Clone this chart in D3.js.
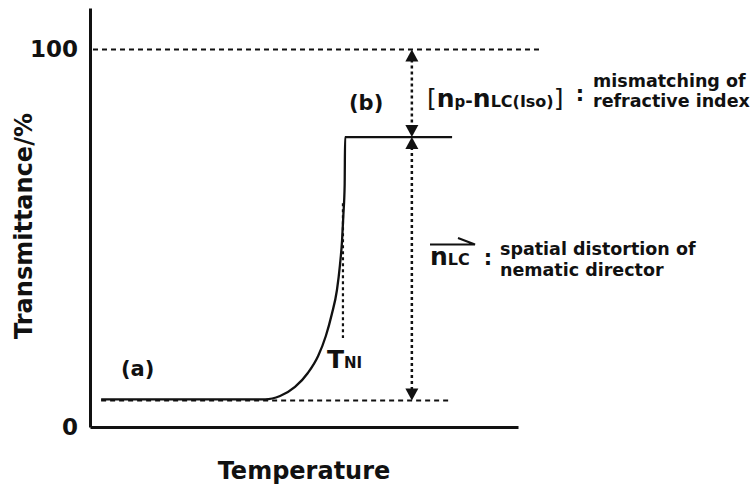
<!DOCTYPE html>
<html><head><meta charset="utf-8">
<script src="https://cdn.jsdelivr.net/npm/d3@7"></script>
<style>
body{margin:0;background:#fff}
svg{display:block}
text{font-family:"DejaVu Sans",sans-serif;font-weight:bold;fill:#111}
</style></head>
<body><svg id="c" width="752" height="495"></svg>
<script>
// ---- data ----
const yTicks = [0, 100];
const yTickLabels = ["0", "100"];
const curveTemp = [2.6, 40.9, 44.4, 47.9, 50.9, 53.3, 55.1, 56.5, 57.7, 58.4, 58.9, 59.2, 59.5, 59.6, 84.6];
const curveTrans = [7.3, 7.3, 8.2, 10.6, 14.3, 18.8, 24.1, 29.9, 36.3, 42.9, 49.5, 56.2, 64.1, 76.8, 76.8];
const topLevel = 100, plateauLevel = 76.8, bottomLevel = 7.0;
const topLineTemp = [0.7, 105.4];
const bottomLineTemp = [2.6, 84.6];
const arrowTemp = 75.2;
const tniTemp = 59.1, tniRange = [23.6, 59.3];

// ---- scales ----
const svg = d3.select("#c");
const x = d3.scaleLinear().domain([0, 100]).range([90, 518]);
const y = d3.scaleLinear().domain([0, 111]).range([427, 8]);

// axes
const gx = svg.append("g").attr("transform", `translate(0,${y(0)})`)
  .call(d3.axisBottom(x).tickValues([]).tickSizeOuter(0));
gx.select(".domain").attr("stroke", "#111").attr("stroke-width", 3);

const gy = svg.append("g").attr("transform", `translate(${x(0)},0)`)
  .call(d3.axisLeft(y).tickValues(yTicks).tickFormat((d, i) => yTickLabels[i]).tickSize(0).tickPadding(12).tickSizeOuter(0));
gy.select(".domain").attr("stroke", "#111").attr("stroke-width", 3);
gy.selectAll("text").attr("font-family", "Liberation Sans, Arial, sans-serif").attr("font-weight", "bold").attr("font-size", 23).attr("fill", "#111");

// axis titles
svg.append("text").attr("transform", "translate(32,226) rotate(-90)")
  .attr("text-anchor", "middle").attr("font-size", 24).text("Transmittance/%");
svg.append("text").attr("x", 304).attr("y", 479)
  .attr("text-anchor", "middle").attr("font-size", 24).text("Temperature");

// reference dashed lines
svg.append("line").attr("x1", x(topLineTemp[0])).attr("x2", x(topLineTemp[1]))
  .attr("y1", y(topLevel)).attr("y2", y(topLevel))
  .attr("stroke", "#111").attr("stroke-width", 1.8).attr("stroke-dasharray", "5,4");
svg.append("line").attr("x1", x(bottomLineTemp[0])).attr("x2", x(bottomLineTemp[1]))
  .attr("y1", y(bottomLevel)).attr("y2", y(bottomLevel))
  .attr("stroke", "#111").attr("stroke-width", 2).attr("stroke-dasharray", "5,4");

// curve
const pts = curveTemp.map((t, i) => [t, curveTrans[i]]);
svg.append("path").datum(pts)
  .attr("d", d3.line().x(d => x(d[0])).y(d => y(d[1])).curve(d3.curveMonotoneX))
  .attr("fill", "none").attr("stroke", "#111").attr("stroke-width", 2.3);

// TNI dotted line
svg.append("line").attr("x1", x(tniTemp)).attr("x2", x(tniTemp))
  .attr("y1", y(tniRange[1])).attr("y2", y(tniRange[0]))
  .attr("stroke", "#111").attr("stroke-width", 2.2).attr("stroke-dasharray", "3,3");

// double arrows
function arrowHead(xp, tip, dir) { // dir -1 = up, +1 = down
  const h = 12, w = 6.5;
  return `M${xp - w},${tip - dir * h}L${xp + w},${tip - dir * h}L${xp},${tip}Z`;
}
function dblArrow(hi, lo) {
  const xp = x(arrowTemp);
  svg.append("line").attr("x1", xp).attr("x2", xp)
    .attr("y1", y(hi) + 10).attr("y2", y(lo) - 10)
    .attr("stroke", "#111").attr("stroke-width", 2.5).attr("stroke-dasharray", "3,3");
  svg.append("path").attr("d", arrowHead(xp, y(hi), -1)).attr("fill", "#111");
  svg.append("path").attr("d", arrowHead(xp, y(lo), 1)).attr("fill", "#111");
}
dblArrow(topLevel, plateauLevel);
dblArrow(plateauLevel, bottomLevel);

// labels
svg.append("text").attr("x", 121).attr("y", 376).attr("font-size", 21).text("(a)");
svg.append("text").attr("x", 349).attr("y", 110).attr("font-size", 21).text("(b)");

const tni = svg.append("text").attr("x", 327).attr("y", 368);
tni.append("tspan").attr("font-size", 25).text("T");
tni.append("tspan").attr("font-size", 15).text("NI");

const mm = svg.append("text").attr("x", 427).attr("y", 107);
mm.append("tspan").attr("font-size", 25).attr("font-weight", "normal").text("[");
mm.append("tspan").attr("font-size", 25).text("n");
mm.append("tspan").attr("font-size", 15).text("p");
mm.append("tspan").attr("font-size", 18).text("-");
mm.append("tspan").attr("font-size", 25).text("n");
mm.append("tspan").attr("font-size", 16).text("LC(Iso)");
mm.append("tspan").attr("font-size", 25).attr("font-weight", "normal").text("]");
svg.append("text").attr("x", 580).attr("y", 101).attr("text-anchor", "middle").attr("font-size", 21).text(":");
svg.append("text").attr("x", 593).attr("y", 87).attr("font-size", 17.5).text("mismatching of");
svg.append("text").attr("x", 593).attr("y", 107).attr("font-size", 17.5).text("refractive index");

const nl = svg.append("text").attr("x", 430).attr("y", 265);
nl.append("tspan").attr("font-size", 25).text("n");
nl.append("tspan").attr("font-size", 16).text("LC");
svg.append("path").attr("d", "M430,244.5H475L458,238")
  .attr("fill", "none").attr("stroke", "#111").attr("stroke-width", 2);
svg.append("text").attr("x", 488).attr("y", 265).attr("text-anchor", "middle").attr("font-size", 21).text(":");
svg.append("text").attr("x", 500).attr("y", 255).attr("font-size", 17.5).text("spatial distortion of");
svg.append("text").attr("x", 500).attr("y", 276).attr("font-size", 17.5).text("nematic director");
</script></body></html>
